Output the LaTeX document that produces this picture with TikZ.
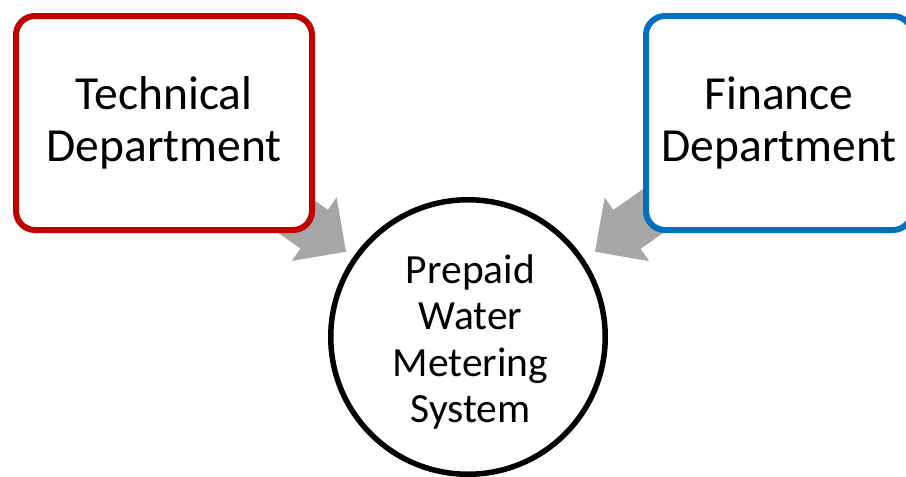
\documentclass[tikz,border=0pt]{standalone}
\usepackage{fontspec}
\setmainfont{Carlito}
\usetikzlibrary{calc,backgrounds}

\definecolor{deptred}{HTML}{C00000}
\definecolor{deptblue}{HTML}{0070C0}
\definecolor{flowgray}{HTML}{A6A6A6}

\tikzset{
  deptbox/.style={draw=#1, line width=6pt, fill=white, rounded corners=19pt,
    inner sep=0pt, align=center, text=black,
    font={\fontsize{47.5pt}{51.7pt}\selectfont}},
  sysring/.style={draw=black, line width=5.5pt, circle, inner sep=0pt,
    minimum size=274.5pt},
  systext/.style={align=center, inner sep=0pt, text=black,
    font={\fontsize{41.5pt}{46.5pt}\selectfont}},
}

% Wide block arrow from #1 (hidden behind the box) to the tip #2
\newcommand\flowarrow[2]{%
  \coordinate (#2-h) at ($(#2)!39pt!(#1)$);
  \fill[flowgray] (#2)
    -- ($(#2-h)!38.9pt!90:(#2)$)
    -- ($(#2-h)!23.75pt!90:(#2)$)
    -- ($(#1)!23.75pt!90:(#2)$)
    -- ($(#1)!23.75pt!-90:(#2)$)
    -- ($(#2-h)!23.75pt!-90:(#2)$)
    -- ($(#2-h)!38.9pt!-90:(#2)$)
    -- cycle;
}

\begin{document}
\begin{tikzpicture}[x=1pt, y=-1pt]
  \useasboundingbox (0,0) rectangle (906,477);
  \clip (0,0) rectangle (906,477);

  \node[deptbox=deptred, minimum width=296pt, minimum height=214pt]
    (tech) at (164,123) {Technical\\Department};
  \node[deptbox=deptblue, minimum width=266pt, minimum height=214pt]
    (fin) at (779,123) {Finance\\Department};

  \node[sysring] (sys) at (468,337) {};
  \node[systext] (syslabel) at (470.5,342)
    {Prepaid\\Water\\Metering\\System};

  \coordinate (tipL) at (346,251.7);
  \coordinate (tipR) at (595,251.7);

  \begin{pgfonlayer}{background}
    \flowarrow{tech.center}{tipL}
    \flowarrow{fin.center}{tipR}
  \end{pgfonlayer}
\end{tikzpicture}
\end{document}
